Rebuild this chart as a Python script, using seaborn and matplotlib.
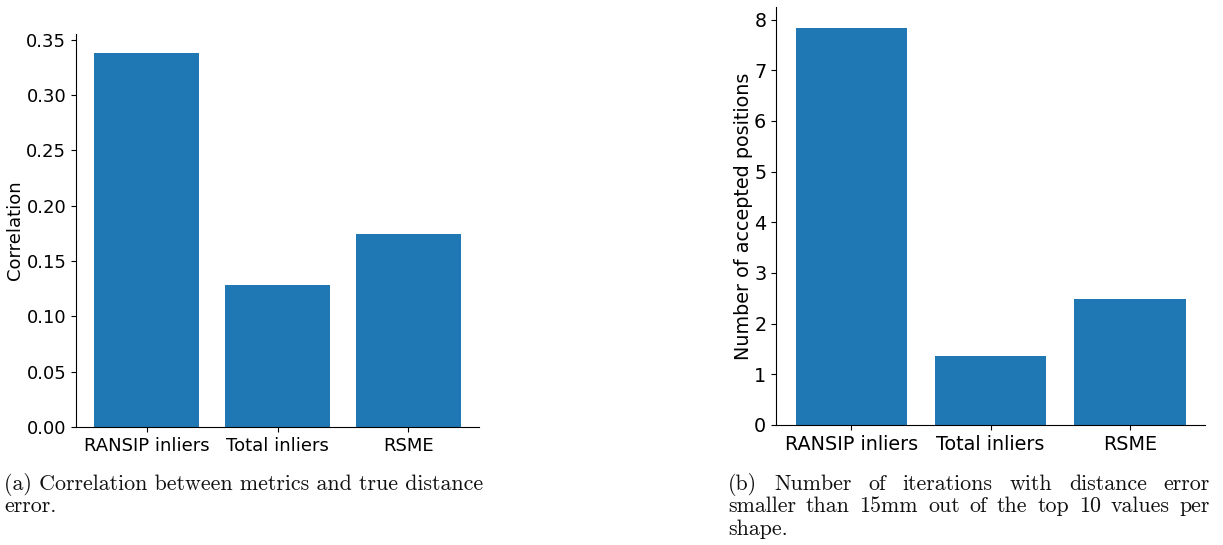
import matplotlib
matplotlib.use("Agg")
import matplotlib.pyplot as plt
import seaborn as sns
import pandas as pd

categories = ["RANSIP inliers", "Total inliers", "RSME"]
correlation = [0.338, 0.128, 0.174]
accepted = [7.84, 1.37, 2.49]
corr_ticks = [0.00, 0.05, 0.10, 0.15, 0.20, 0.25, 0.30, 0.35]
acc_ticks = [0, 1, 2, 3, 4, 5, 6, 7, 8]
caption_a = ["(a) Correlation between metrics and true distance", "error."]
caption_b = ["(b) Number of iterations with distance error",
             "smaller than 15mm out of the top 10 values per",
             "shape."]

sns.set_style("ticks", {"axes.edgecolor": "black", "text.color": "black",
                        "axes.labelcolor": "black", "xtick.color": "black",
                        "ytick.color": "black"})
plt.rcParams['font.family'] = ['DejaVu Sans']

W, H = 1223, 545
fig = plt.figure(figsize=(W / 100, H / 100), dpi=100)

def ax_px(x0, y0, x1, y1):
    return fig.add_axes([x0 / W, 1 - y1 / H, (x1 - x0) / W, (y1 - y0) / H])

blue = "#1f77b4"

ax1 = ax_px(76, 34, 479, 427)
df1 = pd.DataFrame({"cat": categories, "val": correlation})
sns.barplot(data=df1, x="cat", y="val", color=blue, saturation=1, width=0.8,
            linewidth=0, edgecolor="none", ax=ax1)
ax1.set_xlim(-0.54, 2.54)
ax1.set_ylim(0, 0.355)
ax1.set_yticks(corr_ticks)
ax1.set_yticklabels([f"{t:.2f}" for t in corr_ticks])
ax1.set_xlabel("")
ax1.set_ylabel("Correlation", fontsize=13, labelpad=1.5)
ax1.tick_params(labelsize=13, length=3.5)
sns.despine(ax=ax1)

ax2 = ax_px(776, 7, 1205, 425)
df2 = pd.DataFrame({"cat": categories, "val": accepted})
sns.barplot(data=df2, x="cat", y="val", color=blue, saturation=1, width=0.8,
            linewidth=0, edgecolor="none", ax=ax2)
ax2.set_xlim(-0.54, 2.54)
ax2.set_ylim(0, 8.25)
ax2.set_yticks(acc_ticks)
ax2.set_xlabel("")
ax2.set_ylabel("Number of accepted positions", fontsize=13.8, labelpad=1)
ax2.tick_params(labelsize=13.8, length=3.5)
sns.despine(ax=ax2)

cap_font = dict(family="cmr10", fontsize=15.8, color="#111111")
renderer = fig.canvas.get_renderer()

def place_caption(lines, x0_px, x1_px, y_first_px, spacing_px, justify):
    for i, line in enumerate(lines):
        y = 1 - (y_first_px + i * spacing_px) / H
        last = (i == len(lines) - 1)
        if not justify or last:
            fig.text(x0_px / W, y, line, ha="left", va="baseline", **cap_font)
            continue
        words = line.split(" ")
        widths = []
        for w in words:
            t = fig.text(0, 0, w, **cap_font)
            widths.append(t.get_window_extent(renderer).width)
            t.remove()
        gap = ((x1_px - x0_px) - sum(widths)) / (len(words) - 1)
        x = x0_px
        for w, wd in zip(words, widths):
            fig.text(x / W, y, w, ha="left", va="baseline", **cap_font)
            x += wd + gap

place_caption(caption_a, 4, 486, 490, 22.5, False)
place_caption(caption_b, 728, 1210, 490, 22.5, True)

fig.savefig("out.png", dpi=100)
